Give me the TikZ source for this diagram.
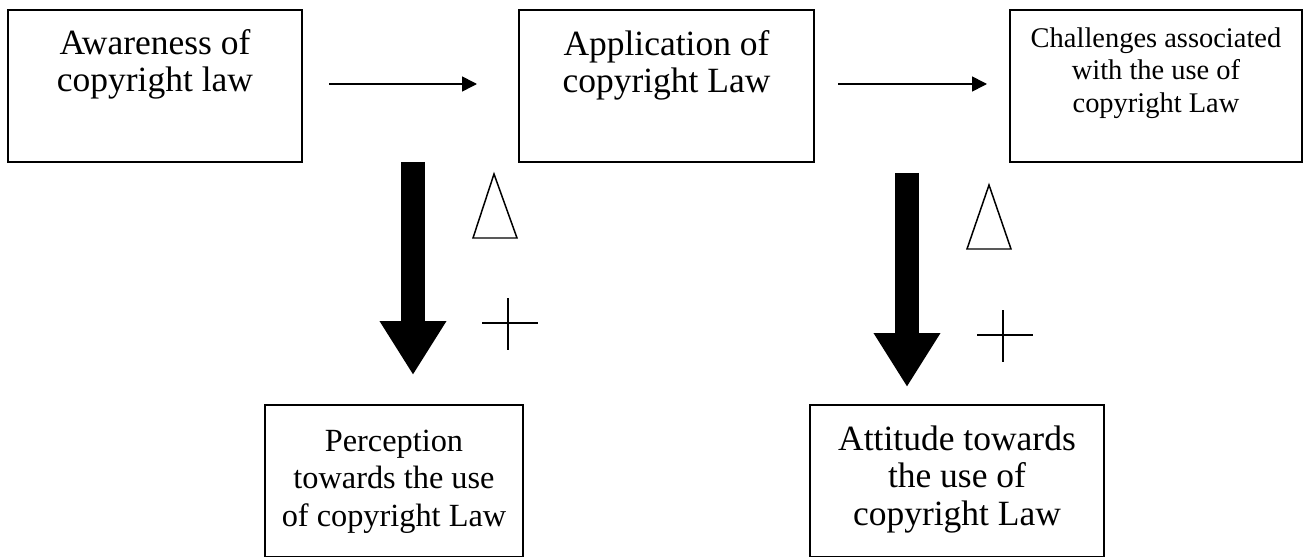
\documentclass[tikz,border=0pt]{standalone}
\usepackage{fontspec}
\setmainfont{Liberation Serif}
\usetikzlibrary{arrows.meta}

\newcommand{\bigfont}{\fontsize{20.2}{21.6}\selectfont}
\newcommand{\midfont}{\fontsize{18.4}{21.6}\selectfont}
\newcommand{\smallfont}{\fontsize{16.2}{18.5}\selectfont}
% width, height, first baseline, font, lines
\newcommand{\boxlines}[5]{\parbox[c][#2][t]{#1}{#4\centering\rule{0pt}{#3}#5}}

\begin{document}
\begin{tikzpicture}[x=0.02cm, y=-0.02cm,
        box/.style={draw, line width=0.9pt, inner sep=0pt},
        flow/.style={-{Triangle[length=0.3cm,width=0.3cm]}, line width=0.9pt},
        bigarrow/.style={-{Triangle[length=1.08cm,width=1.26cm]}, line width=0.48cm},
        sign/.style={line width=0.85pt}]
        \useasboundingbox (0,0) rectangle (1304,557);
        \node[box] (awareness) at (155,86) {\boxlines{5.88cm}{3.04cm}{0.88cm}{\bigfont}{Awareness of\\copyright law}};
        \node[box] (application) at (666.5,86) {\boxlines{5.9cm}{3.04cm}{0.9cm}{\bigfont}{Application of\\copyright Law}};
        \node[box] (challenges) at (1156,86) {\boxlines{5.84cm}{3.04cm}{0.74cm}{\smallfont}{Challenges associated\\with the use of\\copyright Law}};
        \node[box] (perception) at (394,481) {\boxlines{5.16cm}{3.04cm}{0.92cm}{\midfont}{Perception\\towards the use\\of copyright Law}};
        \node[box] (attitude) at (957,481) {\boxlines{5.88cm}{3.04cm}{0.9cm}{\bigfont}{Attitude towards\\the use of\\copyright Law}};
        \coordinate (a1) at (329,84);
        \coordinate (a2) at (477,84);
        \coordinate (b1) at (838,84);
        \coordinate (b2) at (987,84);
        \coordinate (c1) at (413,162);
        \coordinate (c2) at (413,375);
        \coordinate (d1) at (907,173);
        \coordinate (d2) at (907,387);
        \draw[flow] (a1) -- (a2);
        \draw[flow] (b1) -- (b2);
        \draw[bigarrow] (c1) -- (c2);
        \draw[bigarrow] (d1) -- (d2);
        \draw[sign] (494,174) -- (517,238) -- (473,238) -- cycle;
        \draw[sign] (989,185) -- (1011,249) -- (967,249) -- cycle;
        \draw[sign] (482,323) -- (538,323) (508,298) -- (508,350);
        \draw[sign] (977,335) -- (1033,335) (1003,310) -- (1003,362);
    \end{tikzpicture}
\end{document}
